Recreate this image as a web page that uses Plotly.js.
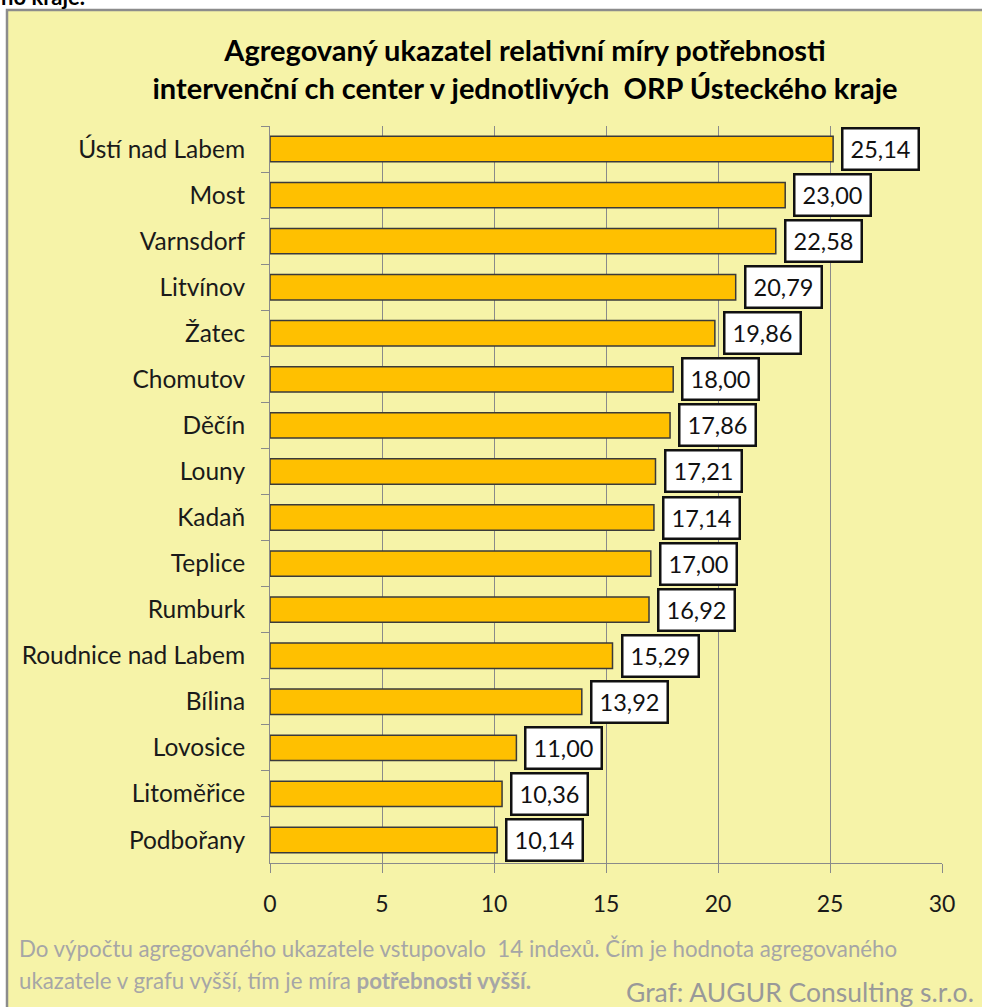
<!DOCTYPE html>
<html>
<head>
<meta charset="utf-8">
<script src="https://cdn.plot.ly/plotly-3.0.1.min.js"></script>
<style>html,body{margin:0;padding:0;background:#fff;}#chart{width:982px;height:1007px;}</style>
</head>
<body>
<div id="chart"></div>
<script>
const categories = ["Ústí nad Labem","Most","Varnsdorf","Litvínov","Žatec","Chomutov","Děčín","Louny","Kadaň","Teplice","Rumburk","Roudnice nad Labem","Bílina","Lovosice","Litoměřice","Podbořany"];
const values = [25.14,23.00,22.58,20.79,19.86,18.00,17.86,17.21,17.14,17.00,16.92,15.29,13.92,11.00,10.36,10.14];
const xTicks = [0,5,10,15,20,25,30];
const titleLines = ["Agregovaný ukazatel relativní míry potřebnosti","intervenční ch center v jednotlivých  ORP Ústeckého kraje"];
const footLine1 = "Do výpočtu agregovaného ukazatele vstupovalo  14 indexů. Čím je hodnota agregovaného";
const footLine2 = "ukazatele v grafu vyšší, tím je míra <b>potřebnosti vyšší.</b>";
const credit = "Graf: AUGUR Consulting s.r.o.";
const topFragment = "ho kraje.";

const W = 982, H = 1007;
const M = {l:270, r:40, t:126, b:144};
const pw = W - M.l - M.r, ph = H - M.t - M.b;
const px = x => (x - M.l) / pw;
const py = y => (H - M.b - y) / ph;

const FONT = "Lato, 'Open Sans', sans-serif";

const labelAnnotations = categories.map((c, i) => ({
  x: values[i], y: c, xref: 'x', yref: 'y',
  text: values[i].toFixed(2).replace('.', ','),
  showarrow: false, xanchor: 'left', yanchor: 'middle', xshift: 8,
  font: {family: FONT, size: 23.5, color: '#111111'},
  bgcolor: '#ffffff', bordercolor: '#111111', borderwidth: 2.5, borderpad: 1,
  width: 72, height: 37
}));

const trace = {
  type: 'bar', orientation: 'h',
  x: values, y: categories,
  width: 0.55,
  marker: {color: '#FFC000', line: {color: '#3a3a3a', width: 1.5}},
  hoverinfo: 'x+y'
};

const layout = {
  width: W, height: H,
  margin: M,
  paper_bgcolor: '#ffffff',
  plot_bgcolor: '#ffffff',
  showlegend: false,
  separators: ',.',
  title: {
    text: titleLines.join('<br>'),
    font: {family: FONT, size: 29, color: '#000000', weight: 'bold'},
    x: 525 / W, xanchor: 'center', xref: 'container',
    y: 1 - 61 / H, yanchor: 'middle', yref: 'container'
  },
  xaxis: {
    range: [0, 30], tickvals: xTicks, ticktext: xTicks.map(String),
    showgrid: true, gridcolor: '#8a8a8a', gridwidth: 1,
    showline: true, linecolor: '#8a8a8a', linewidth: 1,
    ticks: 'outside', ticklen: 9, tickcolor: '#8a8a8a', tickwidth: 1,
    ticklabelstandoff: 11,
    tickfont: {family: FONT, size: 23, color: '#1a1a1a'},
    zeroline: false, fixedrange: true
  },
  yaxis: {
    type: 'category', categoryorder: 'array', categoryarray: categories,
    autorange: 'reversed',
    showgrid: false,
    showline: true, linecolor: '#8a8a8a', linewidth: 1,
    ticks: 'outside', tickson: 'boundaries', ticklen: 8, tickcolor: '#8a8a8a',
    ticklabelstandoff: 19,
    tickfont: {family: FONT, size: 24.5, color: '#1a1a1a'},
    fixedrange: true
  },
  shapes: [
    {type: 'rect', xref: 'paper', yref: 'paper', layer: 'below',
     x0: px(7), x1: px(1000), y0: py(1020), y1: py(10),
     fillcolor: '#F6F3A8', line: {color: '#8c8c8c', width: 2.5}}
  ],
  annotations: labelAnnotations.concat([
    {xref: 'paper', yref: 'paper', x: px(-1), y: py(12), xanchor: 'left', yanchor: 'bottom',
     text: '<b>' + topFragment + '</b>', showarrow: false,
     font: {family: FONT, size: 22, color: '#000000'}},
    {xref: 'paper', yref: 'paper', x: px(17), y: py(948), xanchor: 'left', yanchor: 'middle',
     text: footLine1, showarrow: false, align: 'left',
     font: {family: FONT, size: 22.3, color: '#a6a6a6'}},
    {xref: 'paper', yref: 'paper', x: px(17), y: py(980), xanchor: 'left', yanchor: 'middle',
     text: footLine2, showarrow: false, align: 'left',
     font: {family: FONT, size: 22.3, color: '#a6a6a6'}},
    {xref: 'paper', yref: 'paper', x: px(976), y: py(992), xanchor: 'right', yanchor: 'middle',
     text: credit, showarrow: false,
     font: {family: FONT, size: 26.5, color: '#999999'}}
  ])
};

Plotly.newPlot('chart', [trace], layout, {displayModeBar: false, staticPlot: true});
</script>
</body>
</html>
